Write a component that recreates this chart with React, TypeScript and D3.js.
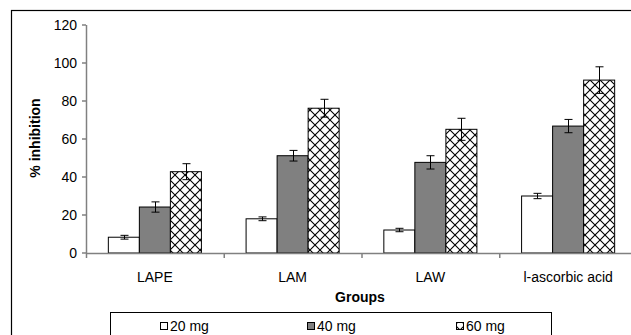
import React, { useEffect, useRef } from 'react';
import * as d3 from 'd3';

const groups = ['LAPE', 'LAM', 'LAW', 'l-ascorbic acid'];
const doses = ['20 mg', '40 mg', '60 mg'];
const mg20 = [8.3, 18, 12.1, 30];
const mg40 = [24.2, 51.2, 47.7, 66.8];
const mg60 = [42.8, 76.2, 65.1, 91];
const err20 = [1, 1, 0.9, 1.4];
const err40 = [2.7, 2.8, 3.5, 3.5];
const err60 = [4.2, 4.7, 5.8, 7];
const yTicks = [0, 20, 40, 60, 80, 100, 120];

const App = () => {
  const svgRef = useRef<SVGSVGElement>(null);

  useEffect(() => {
    const svg = d3.select(svgRef.current);
    svg.selectAll('*').remove();

    const font = 'Arial, "Liberation Sans", sans-serif';
    const axisColor = '#808080';
    const fills = ['#ffffff', '#808080', 'url(#hatch)'];
    const series = [mg20, mg40, mg60];
    const errs = [err20, err40, err60];

    // crosshatch pattern
    const defs = svg.append('defs');
    const pat = defs
      .append('pattern')
      .attr('id', 'hatch')
      .attr('patternUnits', 'userSpaceOnUse')
      .attr('width', 10)
      .attr('height', 10);
    pat.append('rect').attr('width', 10).attr('height', 10).attr('fill', '#fff');
    pat.append('path').attr('d', 'M0,0L10,10M10,0L0,10').attr('stroke', '#000').attr('stroke-width', 1.1);

    // outer frame
    svg
      .append('rect')
      .attr('x', 11.5)
      .attr('y', 10.5)
      .attr('width', 700)
      .attr('height', 400)
      .attr('fill', 'none')
      .attr('stroke', '#000')
      .attr('stroke-width', 1.2);

    const x0 = 86;
    const x1 = 637;
    const y = d3.scaleLinear().domain([0, 120]).range([253, 25]);
    const x = d3.scaleBand<string>().domain(groups).range([x0, x1]).padding(0);
    const xs = d3
      .scaleBand<string>()
      .domain(doses)
      .range([0, x.bandwidth()])
      .paddingInner(0)
      .paddingOuter(0.72);

    // bars
    series.forEach((vals, si) => {
      const g = svg.append('g');
      g.selectAll('rect')
        .data(vals)
        .enter()
        .append('rect')
        .attr('x', (d, i) => x(groups[i])! + xs(doses[si])!)
        .attr('y', (d) => y(d))
        .attr('width', xs.bandwidth())
        .attr('height', (d) => y(0) - y(d))
        .attr('fill', fills[si])
        .attr('stroke', '#000')
        .attr('stroke-width', 1);

      // error bars
      const eb = svg.append('g').attr('stroke', '#000').attr('stroke-width', 1);
      vals.forEach((v, i) => {
        const cx = Math.round(x(groups[i])! + xs(doses[si])! + xs.bandwidth() / 2) + 0.5;
        const e = errs[si][i];
        eb.append('line').attr('x1', cx).attr('x2', cx).attr('y1', y(v - e)).attr('y2', y(v + e));
        eb.append('line').attr('x1', cx - 4).attr('x2', cx + 4).attr('y1', y(v - e)).attr('y2', y(v - e));
        eb.append('line').attr('x1', cx - 4).attr('x2', cx + 4).attr('y1', y(v + e)).attr('y2', y(v + e));
      });
    });

    // y axis
    const ya = svg.append('g');
    ya.append('line')
      .attr('x1', x0 + 0.5)
      .attr('x2', x0 + 0.5)
      .attr('y1', y(120))
      .attr('y2', y(0) + 5)
      .attr('stroke', axisColor)
      .attr('stroke-width', 1.5);
    yTicks.forEach((t) => {
      ya.append('line')
        .attr('x1', x0 - 4)
        .attr('x2', x0)
        .attr('y1', y(t))
        .attr('y2', y(t))
        .attr('stroke', axisColor)
        .attr('stroke-width', 1.5);
      ya.append('text')
        .attr('x', 77)
        .attr('y', y(t))
        .attr('dy', '0.35em')
        .attr('text-anchor', 'end')
        .style('font-family', font)
        .style('font-size', '14px')
        .text(t);
    });

    // x axis
    const xa = svg.append('g');
    xa.append('line')
      .attr('x1', x0)
      .attr('x2', x1)
      .attr('y1', y(0) + 0.5)
      .attr('y2', y(0) + 0.5)
      .attr('stroke', axisColor)
      .attr('stroke-width', 1.5);
    groups.forEach((gname, i) => {
      if (i > 0) {
        xa.append('line')
          .attr('x1', x(gname)! + 0.5)
          .attr('x2', x(gname)! + 0.5)
          .attr('y1', y(0))
          .attr('y2', y(0) + 5)
          .attr('stroke', axisColor)
          .attr('stroke-width', 1.5);
      }
      xa.append('text')
        .attr('x', x(gname)! + x.bandwidth() / 2)
        .attr('y', 282)
        .attr('text-anchor', 'middle')
        .style('font-family', font)
        .style('font-size', '14px')
        .text(gname);
    });

    // axis titles
    svg
      .append('text')
      .attr('x', 360)
      .attr('y', 302)
      .attr('text-anchor', 'middle')
      .style('font-family', font)
      .style('font-size', '14px')
      .style('font-weight', 'bold')
      .text('Groups');
    svg
      .append('text')
      .attr('transform', 'translate(40,138) rotate(-90)')
      .attr('text-anchor', 'middle')
      .style('font-family', font)
      .style('font-size', '14px')
      .style('font-weight', 'bold')
      .text('% inhibition');

    // legend
    const leg = svg.append('g');
    leg.append('rect')
      .attr('x', 110.5)
      .attr('y', 312.5)
      .attr('width', 441)
      .attr('height', 60)
      .attr('fill', '#fff')
      .attr('stroke', '#000')
      .attr('stroke-width', 1);
    const legX = [160, 307, 456];
    doses.forEach((d, i) => {
      leg.append('rect')
        .attr('x', legX[i] + 0.5)
        .attr('y', 322.5)
        .attr('width', 7)
        .attr('height', 7)
        .attr('fill', fills[i])
        .attr('stroke', '#000')
        .attr('stroke-width', 1);
      leg.append('text')
        .attr('x', legX[i] + 10)
        .attr('y', 331)
        .style('font-family', font)
        .style('font-size', '14px')
        .text(d);
    });
  }, []);

  return (
    <svg
      ref={svgRef}
      width={631}
      height={335}
      style={{ position: 'absolute', left: 0, top: 0, background: '#fff' }}
    ></svg>
  );
};

export default App;
